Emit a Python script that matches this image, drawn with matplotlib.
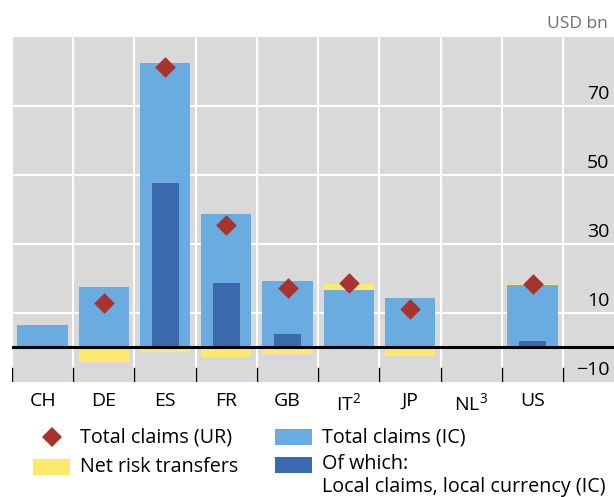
import numpy as np
import matplotlib
matplotlib.use("Agg")
import matplotlib.pyplot as plt
from matplotlib.patches import Rectangle

plt.rcParams['font.family'] = ['Open Sans', 'DejaVu Sans']

countries = ['CH', 'DE', 'ES', 'FR', 'GB', r'IT$\mathregular{^2}$', 'JP', r'NL$\mathregular{^3}$', 'US']
total_ic = [6.4, 17.4, 82.6, 38.8, 19.4, 16.8, 14.2, np.nan, 18.0]
local_ic = [np.nan, np.nan, 47.8, 18.6, 3.8, np.nan, np.nan, np.nan, 2.0]
net_risk = [np.nan, -4.1, -1.2, -2.9, -2.0, 1.7, -2.6, np.nan, 0.3]
total_ur = [np.nan, 13.0, 81.2, 35.4, 17.1, 18.6, 11.3, np.nan, 18.3]
ytick_vals = [70, 50, 30, 10, -10]

c_light = '#6aacdf'
c_dark = '#3a6aad'
c_yellow = '#ffe96e'
c_red = '#a8322d'
c_bg = '#d9d9d9'

W, H = 614, 497
fig = plt.figure(figsize=(W / 100, H / 100), dpi=100)
ax = fig.add_axes([0.0195, 0.2314, 0.9805, 0.6942])
ax.set_facecolor(c_bg)

x = np.arange(len(countries))
ax.set_xlim(-0.5, 9.33)
ax.set_ylim(-10, 90)

# grid
for v in [10, 30, 50, 70]:
    ax.axhline(v, color='white', lw=1.5, zorder=1)
for b in np.arange(-0.5, 9, 1):
    ax.axvline(b, color='white', lw=1.5, zorder=1)
    ax.plot([b, b], [-9.8, -6], color='black', lw=1, zorder=2)

ic = np.nan_to_num(np.array(total_ic))
nr = np.nan_to_num(np.array(net_risk))
yb = np.where(nr > 0, ic, 0)
ax.bar(x, nr, bottom=yb, width=0.82, color=c_yellow, zorder=3)
ax.bar(x, ic, width=0.82, color=c_light, zorder=3)
ax.bar(x, np.nan_to_num(np.array(local_ic)), width=0.44, color=c_dark, zorder=4)
ax.scatter(x, total_ur, marker='D', s=110, color=c_red, zorder=5, linewidths=0)

ax.axhline(0, color='black', lw=2.2, zorder=6)

for s in ax.spines.values():
    s.set_visible(False)
ax.set_yticks([])
ax.set_xticks(x)
ax.set_xticklabels(countries, fontsize=14)
ax.tick_params(axis='x', length=0, pad=7)

for v in ytick_vals:
    ax.text(0.992, v + 1.0, '\u2212' + str(-v) if v < 0 else str(v),
            transform=ax.get_yaxis_transform(), ha='right', va='bottom',
            fontsize=14, zorder=7)

fig.text(0.99, 0.952, 'USD bn', ha='right', va='center', fontsize=12.5, color='#707070')


# legend, drawn by hand in pixel positions
def fx(px):
    return px / W


def fy(py):
    return 1 - py / H


def box(x0, y0, x1, y1, color):
    fig.patches.append(Rectangle((fx(x0), fy(y1)), fx(x1) - fx(x0), fy(y0) - fy(y1),
                                 transform=fig.transFigure, color=color, lw=0))


fig.lines.append(plt.Line2D([fx(52)], [fy(437)], marker='D', color=c_red, markersize=10,
                            markeredgewidth=0, transform=fig.transFigure))
box(33, 459, 70, 475, c_yellow)
box(275, 429, 312, 445, c_light)
box(275, 457, 312, 473, c_dark)

fs = 14.2
fig.text(fx(80), fy(437), 'Total claims (UR)', va='center', fontsize=fs)
fig.text(fx(80), fy(467), 'Net risk transfers', va='center', fontsize=fs)
fig.text(fx(322), fy(437), 'Total claims (IC)', va='center', fontsize=fs)
fig.text(fx(322), fy(464), 'Of which:', va='center', fontsize=fs)
fig.text(fx(322), fy(487), 'Local claims, local currency (IC)', va='center', fontsize=fs)

fig.savefig('out.png', dpi=100)
